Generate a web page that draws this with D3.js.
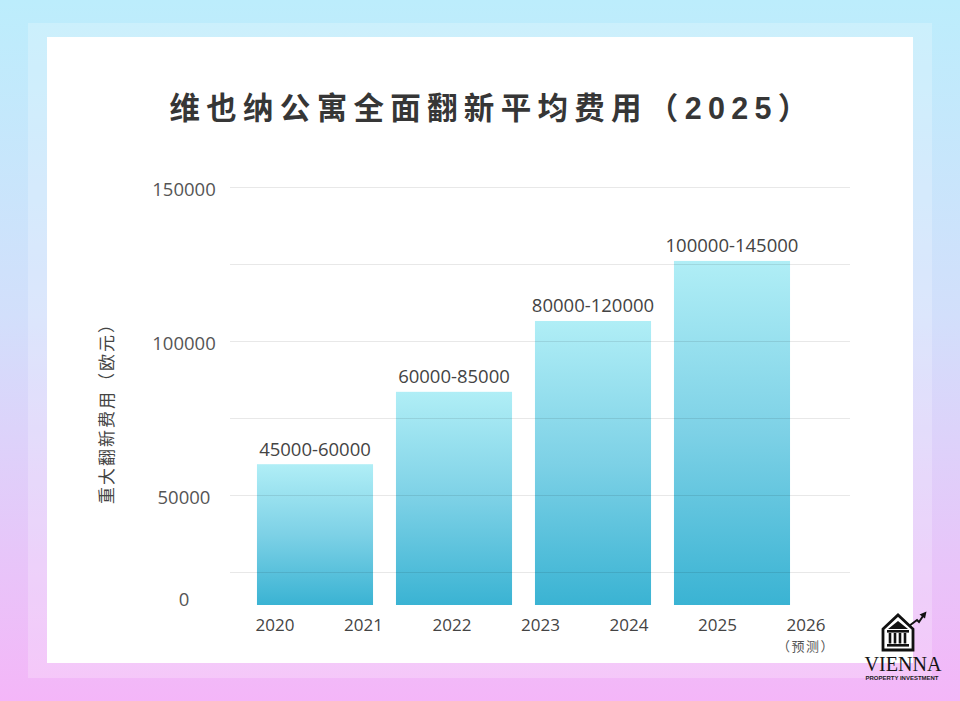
<!DOCTYPE html>
<html>
<head>
<meta charset="utf-8">
<script src="https://cdn.jsdelivr.net/npm/d3@7/dist/d3.min.js"></script>
<style>
  html, body { margin: 0; padding: 0; background: #fff; }
  svg { display: block; }
</style>
</head>
<body>
<div id="chart"></div>
<script>
// ---------------- data ----------------
const chartTitle = "维也纳公寓全面翻新平均费用（2025）";
const yAxisTitle = "重大翻新费用（欧元）";
const barLabels = ["45000-60000", "60000-85000", "80000-120000", "100000-145000"];
const barValues = [60000, 83500, 106500, 126000];
const xTickLabels = ["2020", "2021", "2022", "2023", "2024", "2025", "2026"];
const xTickNotes = ["", "", "", "", "", "", "（预测）"];
const yTickLabels = [0, 50000, 100000, 150000];
const gridValues = [25000, 50000, 75000, 100000, 125000, 150000];

// ---------------- layout ----------------
const W = 960, H = 701;
const plotLeft = 230, plotRight = 850;
const floorY = 605;          // visible floor of the plot (bars are cut here)

const svg = d3.select("#chart").append("svg")
  .attr("width", W).attr("height", H)
  .attr("viewBox", `0 0 ${W} ${H}`);

const defs = svg.append("defs");
const bg = defs.append("linearGradient").attr("id", "bgGrad")
  .attr("x1", 0).attr("y1", 0).attr("x2", 0).attr("y2", 1);
bg.append("stop").attr("offset", "0%").attr("stop-color", "#bcedfc");
bg.append("stop").attr("offset", "45%").attr("stop-color", "#d2dffb");
bg.append("stop").attr("offset", "100%").attr("stop-color", "#f4b6f8");

const barGrad = defs.append("linearGradient").attr("id", "barGrad")
  .attr("x1", 0).attr("y1", 0).attr("x2", 0).attr("y2", 1);
barGrad.append("stop").attr("offset", "0%").attr("stop-color", "#b0eef6");
barGrad.append("stop").attr("offset", "50%").attr("stop-color", "#7dd1e6");
barGrad.append("stop").attr("offset", "100%").attr("stop-color", "#3ab3d3");

// background + frame
svg.append("rect").attr("width", W).attr("height", H).attr("fill", "url(#bgGrad)");
svg.append("rect").attr("x", 28).attr("y", 23).attr("width", 904).attr("height", 655)
  .attr("fill", "#ffffff").attr("fill-opacity", 0.22);
svg.append("rect").attr("x", 47).attr("y", 37).attr("width", 866).attr("height", 626)
  .attr("fill", "#ffffff");

// title
svg.append("text")
  .attr("x", 492).attr("y", 108)
  .attr("text-anchor", "middle").attr("dominant-baseline", "central")
  .attr("font-family", "'Liberation Sans', 'Noto Sans CJK SC', sans-serif")
  .attr("font-weight", "bold").attr("font-size", 30.5)
  .attr("letter-spacing", 6.3)
  .attr("fill", "#363636")
  .text(chartTitle);

// scales
const y = d3.scaleLinear().domain([0, 150000]).range([649, 187]);
const xBand = d3.scaleBand().domain(barLabels).range([245.5, 801.5])
  .paddingInner(0.165).paddingOuter(0.0825);
const xPoint = d3.scalePoint().domain(xTickLabels).range([275, 806]);

const font = "'Open Sans', 'Noto Sans CJK SC', sans-serif";

// bars
svg.append("g").selectAll("rect").data(barValues).join("rect")
  .attr("x", (d, i) => xBand(barLabels[i]))
  .attr("y", d => y(d))
  .attr("width", xBand.bandwidth())
  .attr("height", d => floorY - y(d))
  .attr("fill", "url(#barGrad)");

// grid lines (on top, translucent)
svg.append("g").selectAll("line").data(gridValues).join("line")
  .attr("x1", plotLeft).attr("x2", plotRight)
  .attr("y1", d => y(d) + 0.5).attr("y2", d => y(d) + 0.5)
  .attr("stroke", "#000").attr("stroke-opacity", 0.09).attr("stroke-width", 1);

// value labels
svg.append("g").selectAll("text").data(barValues).join("text")
  .attr("x", (d, i) => xBand(barLabels[i]) + xBand.bandwidth() / 2)
  .attr("y", d => y(d) - 16)
  .attr("text-anchor", "middle").attr("dominant-baseline", "central")
  .attr("font-family", font).attr("font-size", 18.5).attr("fill", "#444")
  .text((d, i) => barLabels[i]);

// y tick labels
svg.append("g").selectAll("text").data(yTickLabels).join("text")
  .attr("x", 184)
  .attr("y", d => Math.min(y(d) + 1, floorY - 7))
  .attr("text-anchor", "middle").attr("dominant-baseline", "central")
  .attr("font-family", font).attr("font-size", 18.5).attr("fill", "#555")
  .text(d => d);

// x tick labels
const xt = svg.append("g").selectAll("g").data(xTickLabels).join("g")
  .attr("transform", d => `translate(${xPoint(d)},0)`);
xt.append("text")
  .attr("y", 631).attr("text-anchor", "middle")
  .attr("font-family", font).attr("font-size", 17).attr("fill", "#444")
  .text(d => d);
xt.append("text")
  .attr("y", 651).attr("text-anchor", "middle")
  .attr("font-family", "'Noto Sans CJK SC', sans-serif").attr("font-size", 13)
  .attr("letter-spacing", 1.5).attr("fill", "#555")
  .text((d, i) => xTickNotes[i]);

// y axis title
svg.append("text")
  .attr("transform", "translate(105,409) rotate(-90)")
  .attr("text-anchor", "middle").attr("dominant-baseline", "central")
  .attr("font-family", "'Noto Sans CJK SC', sans-serif").attr("font-size", 17)
  .attr("letter-spacing", 2).attr("fill", "#444")
  .text(yAxisTitle);

// logo
const logo = svg.append("g");
logo.append("path")
  .attr("d", "M883,629 L898,615 L913,629 L913,650 L883,650 Z")
  .attr("fill", "none").attr("stroke", "#111").attr("stroke-width", 2.8)
  .attr("stroke-linejoin", "miter");
logo.append("path").attr("d", "M888,629 L898,621 L908,629 Z").attr("fill", "#111");
logo.append("rect").attr("x", 887).attr("y", 630).attr("width", 22).attr("height", 2.6).attr("fill", "#111");
[890, 895, 900, 905].forEach(cx => {
  logo.append("rect").attr("x", cx - 1.3).attr("y", 633).attr("width", 2.6).attr("height", 10.5).attr("fill", "#111");
});
logo.append("rect").attr("x", 887).attr("y", 644).attr("width", 22).attr("height", 2.6).attr("fill", "#111");
logo.append("path").attr("d", "M909,626 L917,620 L919,622 L923,616")
  .attr("fill", "none").attr("stroke", "#111").attr("stroke-width", 2);
logo.append("path").attr("d", "M919.5,614.5 L926.5,611.5 L925,618.5 Z").attr("fill", "#111");
logo.append("text")
  .attr("x", 903).attr("y", 671).attr("text-anchor", "middle")
  .attr("font-family", "'Liberation Serif', 'DejaVu Serif', serif")
  .attr("font-size", 21).attr("fill", "#151515")
  .attr("textLength", 77).attr("lengthAdjust", "spacingAndGlyphs")
  .text("VIENNA");
logo.append("text")
  .attr("x", 902).attr("y", 680).attr("text-anchor", "middle")
  .attr("font-family", "'Liberation Sans', sans-serif").attr("font-weight", "bold")
  .attr("font-size", 6).attr("fill", "#222")
  .attr("textLength", 73).attr("lengthAdjust", "spacingAndGlyphs")
  .text("PROPERTY INVESTMENT");
</script>
</body>
</html>
